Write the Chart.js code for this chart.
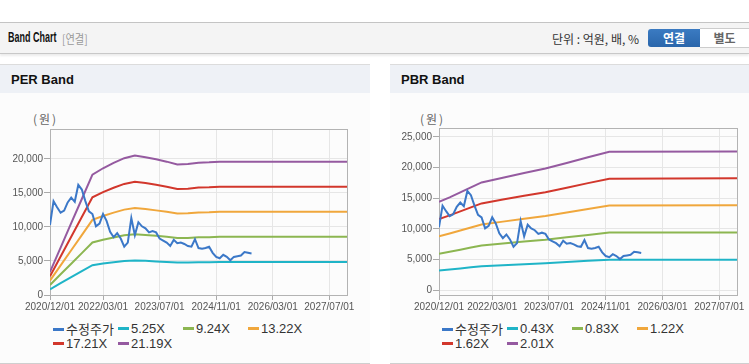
<!DOCTYPE html>
<html>
<head>
<meta charset="utf-8">
<script src="https://cdn.jsdelivr.net/npm/chart.js@4.4.1/dist/chart.umd.min.js"></script>
<style>
  body { margin: 0; width: 749px; height: 364px; overflow: hidden; background: #fff; position: relative;
         font-family: "Liberation Sans", Arial, "Noto Sans CJK KR", sans-serif; }
  .topbar { position: absolute; left: 0; top: 22px; width: 749px; height: 30px; background: #f4f4f4;
            border-top: 1px solid #c4c4c4; border-bottom: 1px solid #c8c8c8; box-shadow: 0 2px 2px rgba(0,0,0,0.08); }
  .topbar .ttl { position: absolute; left: 8px; top: 5px; font-size: 15px; font-weight: bold; color: #111;
                 transform: scaleX(0.6); transform-origin: left; }
  .topbar .sub { position: absolute; left: 62px; top: 7px; font-size: 12px; color: #999; font-family: "Noto Sans CJK KR", sans-serif; transform: scaleX(0.85); transform-origin: left; }
  .topbar .unit { position: absolute; left: 552px; top: 7px; font-size: 12px; color: #333; font-family: "Noto Sans CJK KR", sans-serif; }
  .btn { position: absolute; top: 6px; height: 18px; line-height: 18px; text-align: center; font-size: 12px; font-weight: bold;
         font-family: "Noto Sans CJK KR", sans-serif; }
  .btn.on { left: 648px; width: 52px; background: linear-gradient(#3b7bc2, #2a66ab); color: #fff; border-radius: 3px 0 0 3px; }
  .btn.off { left: 700px; width: 49px; background: #fff; color: #666; border: 1px solid #ccc; border-left: 0; top: 5px; }
  .panel { position: absolute; top: 64px; height: 298px; background: #fcfcfc; border-top: 1px solid #dcdcdc; border-bottom: 1px solid #cfcfcf; }
  .panel .head { height: 28px; background: #eef1f6; font-size: 13px; font-weight: bold; color: #111; line-height: 30px; padding-left: 11px; }
  .unitlbl { position: absolute; top: 110px; font-size: 12px; color: #666; font-family: "Noto Sans CJK KR", sans-serif; letter-spacing: 2px; }
  .cv { position: absolute; top: 93px; height: 222px; }
  .legend { position: absolute; top: 322px; width: 270px; font-size: 13px; color: #333; }
  .legend .it { display: inline-block; width: 65px; height: 14px; line-height: 14px; white-space: nowrap; vertical-align: top; }
  .legend .mk { display: inline-block; width: 11px; height: 3px; margin-right: 2px; vertical-align: middle; position: relative; top: -1px; }
  .legend .ko { font-family: "Noto Sans CJK KR", sans-serif; }
</style>
</head>
<body>
<div class="topbar">
  <span class="ttl">Band Chart</span>
  <span class="sub">[연결]</span>
  <span class="unit">단위 : 억원, 배, %</span>
  <span class="btn on">연결</span>
  <span class="btn off">별도</span>
</div>

<div class="panel" style="left:0;width:370px"><div class="head">PER Band</div></div>
<div class="panel" style="left:390px;width:359px"><div class="head">PBR Band</div></div>

<span class="unitlbl" style="left:33px">(원)</span>
<span class="unitlbl" style="left:420px">(원)</span>

<div class="cv" style="left:0;width:370px"><canvas id="perChart"></canvas></div>
<div class="cv" style="left:390px;width:359px"><canvas id="pbrChart"></canvas></div>
<div class="legend" id="perLegend" style="left:53px"></div>
<div class="legend" id="pbrLegend" style="left:442px"></div>

<script>
// x axis: months from 2020/12
const tickLabels = ['2020/12/01', '2022/03/01', '2023/07/01', '2024/11/01', '2026/03/01', '2027/07/01'];
const tickMonths = [0, 15, 31, 47, 63, 79];
const perYTicks = [0, 5000, 10000, 15000, 20000];
const pbrYTicks = [0, 5000, 10000, 15000, 20000, 25000];

// 수정주가, monthly from 2020/12
const price = [10300, 13800, 12900, 12100, 12400, 13600, 14300, 13700, 16200, 15500,
  13800, 12300, 11900, 10100, 10500, 11900, 10900, 9300, 8500, 9100,
  8300, 7100, 7700, 11300, 8800, 10700, 10100, 9800, 9200, 9400,
  9200, 8300, 8000, 7700, 7200, 8100, 7600, 7700, 7500, 7200,
  7100, 8200, 6900, 6800, 6900, 7100, 6200, 5600, 5400, 5900,
  5600, 5100, 5600, 5700, 5800, 6300, 6200, 6100];

// PER bands
const perMonths = [0, 3, 6, 9, 12, 15, 18, 21, 24, 27, 30, 33, 36, 39, 42, 45, 48, 84];
const per525 = [840, 1730, 2620, 3500, 4380, 4620, 4810, 4980, 5080, 5020, 4940, 4860, 4760, 4770, 4820, 4830, 4860, 4860];
const per924 = [1480, 3040, 4600, 6150, 7720, 8120, 8460, 8770, 8940, 8830, 8700, 8550, 8370, 8390, 8480, 8500, 8550, 8550];
const per1322 = [2120, 4350, 6580, 8810, 11040, 11620, 12110, 12550, 12780, 12640, 12440, 12230, 11980, 12000, 12140, 12160, 12230, 12230];
const per1721 = [2750, 5660, 8570, 11460, 14370, 15130, 15760, 16330, 16640, 16450, 16200, 15920, 15590, 15630, 15800, 15830, 15920, 15920];
const per2119 = [3390, 6970, 10550, 14110, 17690, 18630, 19410, 20110, 20490, 20260, 19940, 19600, 19200, 19240, 19450, 19500, 19600, 19600];
const perNames = ['5.25X', '9.24X', '13.22X', '17.21X', '21.19X'];

// PBR bands
const pbrMonths = [0, 3, 6, 9, 12, 18, 24, 30, 36, 42, 48, 84];
const pbr043 = [3250, 3410, 3580, 3760, 3930, 4100, 4260, 4420, 4620, 4820, 5000, 5000];
const pbr083 = [5980, 6290, 6630, 6970, 7300, 7630, 7950, 8260, 8650, 9040, 9420, 9450];
const pbr122 = [8800, 9260, 9750, 10240, 10730, 11200, 11660, 12120, 12670, 13240, 13820, 13860];
const pbr162 = [11630, 12220, 12870, 13520, 14170, 14790, 15400, 16000, 16730, 17470, 18200, 18250];
const pbr201 = [14430, 15160, 15970, 16770, 17580, 18350, 19110, 19850, 20760, 21680, 22580, 22640];
const pbrNames = ['0.43X', '0.83X', '1.22X', '1.62X', '2.01X'];

const priceColor = '#3b78c8';
const bandColors = ['#1fb4c7', '#8cb651', '#f0a73c', '#d2372c', '#955aa0'];

Chart.defaults.font.family = '"Liberation Sans", Arial, sans-serif';
Chart.defaults.font.size = 10;
Chart.defaults.color = '#555';

const frame = {
  id: 'frame',
  beforeDatasetsDraw(c) {
    const a = c.chartArea, ctx = c.ctx;
    ctx.save();
    ctx.strokeStyle = '#b3b3b3';
    ctx.lineWidth = 1;
    ctx.strokeRect(Math.round(a.left) + 0.5, Math.round(a.top) + 0.5, Math.round(a.right - a.left), Math.round(a.bottom - a.top));
    ctx.restore();
  }
};

function makeChart(id, legendId, months, bands, names, yTicks, opt) {
  const datasets = [{
    label: '수정주가',
    data: price.map((v, i) => ({ x: i, y: v })),
    borderColor: priceColor
  }];
  bands.forEach((b, k) => {
    datasets.push({
      label: names[k],
      data: b.map((v, i) => ({ x: months[i], y: v })),
      borderColor: bandColors[k]
    });
  });

  const chart = new Chart(document.getElementById(id), {
    type: 'line',
    data: { datasets },
    options: {
      responsive: true,
      maintainAspectRatio: false,
      animation: false,
      layout: { padding: { top: opt.top, right: opt.right, left: 0, bottom: 0 } },
      elements: { point: { radius: 0 }, line: { borderWidth: 2, tension: 0 } },
      plugins: { legend: { display: false }, tooltip: { enabled: false } },
      scales: {
        x: {
          type: 'linear', min: 0, max: 84, bounds: 'data',
          afterBuildTicks: s => { s.ticks = tickMonths.map(v => ({ value: v })); },
          afterFit: s => { s.height = 20; },
          ticks: { autoSkip: false, maxRotation: 0, padding: 1, callback: (v, i) => tickLabels[i] },
          grid: { color: '#e6e6e6', tickColor: '#aaa', tickLength: 5 },
          border: { color: '#b3b3b3' }
        },
        y: {
          min: opt.min, max: opt.max, bounds: 'data',
          afterBuildTicks: s => { s.ticks = yTicks.map(v => ({ value: v })); },
          afterFit: s => { s.width = opt.yw; },
          ticks: { padding: 1, callback: v => v.toLocaleString('en-US') },
          grid: { color: '#e6e6e6', tickColor: '#aaa', tickLength: 6 },
          border: { color: '#b3b3b3' }
        }
      }
    },
    plugins: [frame]
  });

  const lg = document.getElementById(legendId);
  chart.data.datasets.forEach(d => {
    const it = document.createElement('span');
    it.className = 'it';
    const ko = /[가-힣]/.test(d.label) ? ' class="ko"' : '';
    it.innerHTML = `<span class="mk" style="background:${d.borderColor}"></span><span${ko}>${d.label}</span>`;
    lg.appendChild(it);
  });
  return chart;
}

makeChart('perChart', 'perLegend', perMonths, [per525, per924, per1322, per1721, per2119], perNames, perYTicks,
  { min: 0, max: 24400, top: 36, right: 23, yw: 50 });
makeChart('pbrChart', 'pbrLegend', pbrMonths, [pbr043, pbr083, pbr122, pbr162, pbr201], pbrNames, pbrYTicks,
  { min: -750, max: 26450, top: 35, right: 12, yw: 49 });
</script>
</body>
</html>
